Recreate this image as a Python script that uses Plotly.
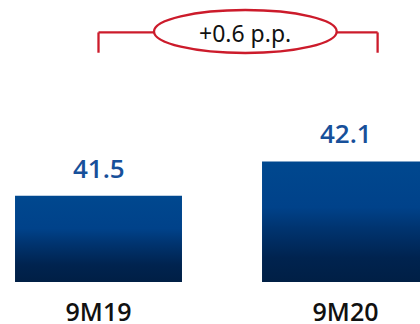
import plotly.graph_objects as go

categories = ["9M19", "9M20"]
values = [41.5, 42.1]
value_labels = ["41.5", "42.1"]
base_value = 40.0
delta_label = "+0.6 p.p."

half_w = 0.338
red = "#cc1b2b"
grad = [[0.0, "#001f45"], [0.2, "#00234f"], [0.45, "#003470"], [0.62, "#00428a"], [1.0, "#00488f"]]

fig = go.Figure()
for i, (c, v) in enumerate(zip(categories, values)):
    fig.add_trace(go.Scatter(
        x=[i - half_w, i - half_w, i + half_w, i + half_w, i - half_w],
        y=[base_value, v, v, base_value, base_value],
        mode="lines", fill="toself", line=dict(width=0),
        fillgradient=dict(type="vertical", colorscale=grad),
        hoverinfo="skip", showlegend=False, name=c,
    ))
    fig.add_annotation(x=i, y=v, xref="x", yref="y", text=value_labels[i],
                       showarrow=False, yanchor="middle", yshift=28,
                       font=dict(family="Open Sans", size=26, color="#17509a", weight=600))

# bracket
xl, xr = 0.0, 1.13
ly = 0.885
lb = 0.813
ex0, ex1 = 0.2247, 0.9644
ey0, ey1 = 0.812, 0.9645
line = dict(color=red, width=2.3)
fig.add_shape(type="line", xref="x", yref="paper", x0=xl, x1=xl, y0=lb, y1=ly, line=line)
fig.add_shape(type="line", xref="x", yref="paper", x0=xl, x1=ex0, y0=ly, y1=ly, line=line)
fig.add_shape(type="line", xref="x", yref="paper", x0=ex1, x1=xr, y0=ly, y1=ly, line=line)
fig.add_shape(type="line", xref="x", yref="paper", x0=xr, x1=xr, y0=lb, y1=ly, line=line)
fig.add_shape(type="circle", xref="x", yref="paper", x0=ex0, x1=ex1, y0=ey0, y1=ey1,
              line=line, fillcolor="white")
fig.add_annotation(x=(ex0 + ex1) / 2, y=0.882, xref="x", yref="paper", text=delta_label,
                   showarrow=False, yanchor="middle",
                   font=dict(family="Noto Sans", size=23, color="#111111"))

fig.update_layout(
    width=420, height=324,
    margin=dict(l=0, r=0, t=0, b=42, autoexpand=False),
    paper_bgcolor="white", plot_bgcolor="white",
    xaxis=dict(range=[-0.3988, 1.3016], tickvals=list(range(len(categories))),
               ticktext=categories, showgrid=False, zeroline=False, showline=False,
               ticks="", ticklabelstandoff=13, automargin=False,
               tickfont=dict(family="Open Sans", size=25, color="#111111", weight=600),
               fixedrange=True),
    yaxis=dict(range=[base_value, 44.91], visible=False, showgrid=False, fixedrange=True,
               automargin=False),
    showlegend=False,
)
fig.write_html("out.html")
